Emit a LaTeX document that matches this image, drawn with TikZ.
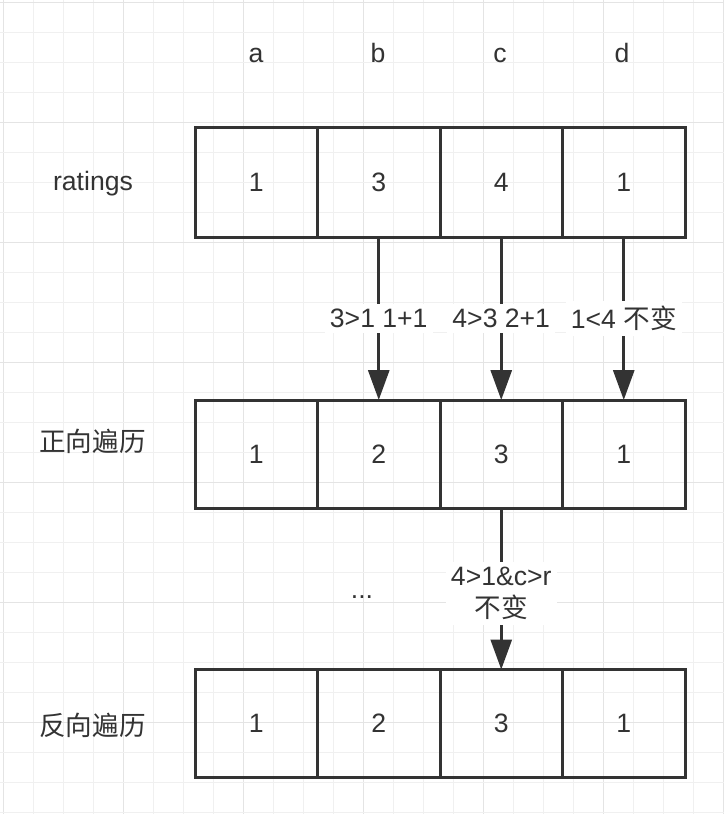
\documentclass[tikz,border=0pt]{standalone}
\usepackage{fontspec}
\setmainfont{Liberation Sans}
\newfontfamily\cjk{Noto Sans CJK SC}
\usetikzlibrary{arrows.meta}
\definecolor{ink}{HTML}{333333}
\definecolor{gridlo}{HTML}{F0F0F0}
\definecolor{gridhi}{HTML}{E4E4E4}
\tikzset{
  txt/.style={text=ink, font=\fontsize{13.3pt}{16pt}\selectfont},
  cell/.style={txt, draw=ink, line width=1.5pt, minimum width=61.25pt, minimum height=54pt, outer sep=0pt, inner sep=0pt},
  step label/.style={txt, fill=white, inner sep=2.5pt, align=center},
  flow/.style={draw=ink, line width=1.5pt, -{Triangle[length=15pt, width=10.5pt]}}
}
\begin{document}
\begin{tikzpicture}[x=0.5pt, y=-0.5pt]

\useasboundingbox (0,0) rectangle (724,814);
\fill [white] (0,0) rectangle (724,814);
% background grid
\foreach \k in {0,...,24} {
  \pgfmathtruncatemacro{\major}{mod(\k,4)==0}
  \ifnum\major=1 \def\gc{gridhi}\else \def\gc{gridlo}\fi
  \draw [\gc, line width=0.5pt] (3+30*\k,0) -- (3+30*\k,814);
}
\foreach \k in {0,...,27} {
  \pgfmathtruncatemacro{\major}{mod(\k,4)==0}
  \ifnum\major=1 \def\gc{gridhi}\else \def\gc{gridlo}\fi
  \draw [\gc, line width=0.5pt] (0,2.7+30*\k) -- (724,2.7+30*\k);
}

\node [txt, anchor=base] (ca) at (256,62) {a};
\node [txt, anchor=base] (cb) at (378,62) {b};
\node [txt, anchor=base] (cc) at (500,62) {c};
\node [txt, anchor=base] (cd) at (622,62) {d};

\node [txt] (ratings) at (93,184) {ratings};
\node [txt] (fwd) at (92.5,441) {\cjk 正向遍历};
\node [txt] (bwd) at (92.5,725) {\cjk 反向遍历};

\node [cell, minimum height=55pt] (r1a) at (256.25,182) {1};
\node [cell, minimum height=55pt] (r1b) at (378.75,182) {3};
\node [cell, minimum height=55pt] (r1c) at (501.25,182) {4};
\node [cell, minimum height=55pt] (r1d) at (623.75,182) {1};

\node [cell] (r2a) at (256.25,454) {1};
\node [cell] (r2b) at (378.75,454) {2};
\node [cell] (r2c) at (501.25,454) {3};
\node [cell] (r2d) at (623.75,454) {1};

\node [cell] (r3a) at (256.25,723.5) {1};
\node [cell] (r3b) at (378.75,723.5) {2};
\node [cell] (r3c) at (501.25,723.5) {3};
\node [cell] (r3d) at (623.75,723.5) {1};

\draw [flow] (r1b.south) -- node [step label] (lb) {3>1 1+1} (r2b.north);
\draw [flow] (r1c.south) -- node [step label] (lc) {4>3 2+1} (r2c.north);
\draw [flow] (r1d.south) -- node [step label] (ld) {1<4 {\cjk 不变}} (r2d.north);
\draw [flow] (r2c.south) -- node [step label, pos=0.53] (lr) {4>1\&c>r\\{\cjk 不变}} (r3c.north);

\node [txt, anchor=base] (dots) at (362,598) {...};
\end{tikzpicture}
\end{document}
